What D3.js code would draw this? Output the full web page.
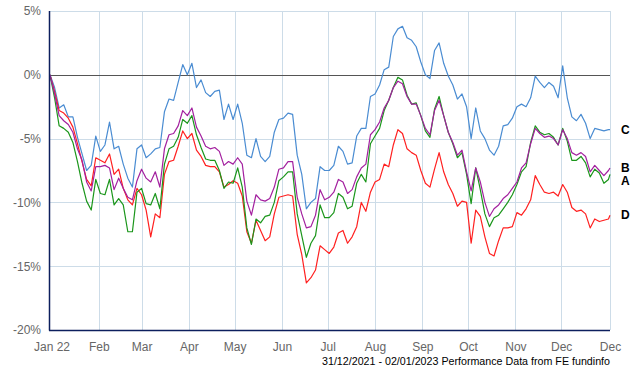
<!DOCTYPE html>
<meta charset="utf-8">
<style>
body { margin: 0; background: #fff; }
svg { display: block; font-family: "Liberation Sans", Arial, sans-serif; }
.grid line { stroke: #cddce8; stroke-width: 1px; shape-rendering: crispEdges; }
.axis text { fill: #666; font-size: 12px; }
.axis path { display: none; }
.line { fill: none; stroke-width: 1.2px; stroke-linejoin: round; }
.label { font-size: 12px; font-weight: bold; fill: #000; }
</style>
<svg width="640" height="370"></svg>
<script src="https://d3js.org/d3.v7.min.js"></script>
<script>

var dates = [
  "2021-12-31",
  "2022-01-03","2022-01-06","2022-01-09","2022-01-12","2022-01-15","2022-01-18","2022-01-21","2022-01-24","2022-01-27","2022-01-30",
  "2022-02-02","2022-02-05","2022-02-08","2022-02-11","2022-02-14","2022-02-17","2022-02-20","2022-02-23","2022-02-26",
  "2022-03-01","2022-03-04","2022-03-07","2022-03-10","2022-03-13","2022-03-16","2022-03-19","2022-03-22","2022-03-25","2022-03-28","2022-03-31",
  "2022-04-03","2022-04-06","2022-04-09","2022-04-12","2022-04-15","2022-04-18","2022-04-21","2022-04-24","2022-04-27","2022-04-30",
  "2022-05-03","2022-05-06","2022-05-09","2022-05-12","2022-05-15","2022-05-18","2022-05-21","2022-05-24","2022-05-27","2022-05-30",
  "2022-06-02","2022-06-05","2022-06-08","2022-06-11","2022-06-14","2022-06-17","2022-06-20","2022-06-23","2022-06-26","2022-06-29",
  "2022-07-02","2022-07-05","2022-07-08","2022-07-11","2022-07-14","2022-07-17","2022-07-20","2022-07-23","2022-07-26","2022-07-29",
  "2022-08-01","2022-08-04","2022-08-07","2022-08-10","2022-08-13","2022-08-16","2022-08-19","2022-08-22","2022-08-25","2022-08-28","2022-08-31",
  "2022-09-03","2022-09-06","2022-09-09","2022-09-12","2022-09-15","2022-09-18","2022-09-21","2022-09-24","2022-09-27","2022-09-30",
  "2022-10-03","2022-10-06","2022-10-09","2022-10-12","2022-10-15","2022-10-18","2022-10-21","2022-10-24","2022-10-27","2022-10-30",
  "2022-11-02","2022-11-05","2022-11-08","2022-11-11","2022-11-14","2022-11-17","2022-11-20","2022-11-23","2022-11-26","2022-11-29",
  "2022-12-02","2022-12-05","2022-12-08","2022-12-11","2022-12-14","2022-12-17","2022-12-20","2022-12-23","2022-12-26","2022-12-29",
  "2023-01-01","2023-01-02"
];

var seriesC = [0,-1.0,-2.6,-2.35,-3.3,-3.3,-4.9,-6.2,-7.5,-7.1,
  -4.8,-6.0,-5.5,-3.7,-5.8,-5.6,-7.0,-8.1,-8.8,-5.8,
  -5.5,-6.5,-6.2,-5.8,-5.7,-2.9,-1.9,-2.0,-0.6,0.8,
  0,0.9,-1.0,-0.4,-1.4,-1.7,-1.3,-1.2,-3.5,-2.3,
  -3.5,-2.3,-3.8,-6.3,-6.5,-5.0,-6.4,-6.8,-6.4,-4.5,
  -3.5,-3.4,-3.0,-3.1,-6.3,-7.8,-10.5,-10.0,-9.7,-7.2,
  -7.5,-7.5,-7.1,-5.6,-6.0,-7.0,-6.9,-4.8,-4.2,-4.2,
  -1.7,-1.5,-0.8,0.4,0.6,3.0,3.6,3.8,2.9,2.7,
  2.2,1.0,0,-0.3,1.9,2.5,0.9,-0.1,-0.8,-1.9,
  -1.5,-2.5,-5.0,-2.6,-4.4,-5.0,-5.9,-6.3,-5.6,-4.0,
  -3.9,-3.4,-2.5,-2.3,-2.5,-1.8,-0.1,-0.6,-1.0,-0.6,
  -0.9,-1.8,0.7,-1.8,-3.3,-3.6,-3.1,-3.8,-5.0,-4.2,
  -4.3,-4.4,-4.3,-4.3];

var seriesB = [0,-1.5,-3.2,-3.6,-3.9,-4.5,-5.8,-6.7,-8.4,-9.1,
  -7.2,-7.2,-7.1,-7.3,-9.0,-8.1,-8.9,-9.6,-9.8,-8.3,
  -7.4,-8.1,-8.4,-7.6,-8.8,-5.8,-4.7,-4.6,-4.0,-2.8,
  -3.2,-2.6,-4.1,-4.8,-5.6,-5.8,-5.7,-6.0,-7.1,-6.8,
  -7.0,-6.5,-7.0,-9.9,-11.0,-9.4,-9.8,-9.9,-9.7,-8.8,
  -7.4,-7.3,-6.8,-6.8,-9.6,-10.9,-12.0,-11.9,-11.0,-9.0,
  -9.8,-9.6,-9.2,-8.2,-8.4,-9.3,-9.0,-8.0,-7.3,-7.0,
  -4.7,-4.3,-3.7,-2.6,-2.0,-1.0,-0.5,-0.7,-1.7,-2.3,
  -2.3,-3.2,-4.2,-4.7,-2.8,-2.0,-3.2,-4.5,-5.3,-6.3,
  -5.9,-7.6,-9.1,-7.3,-8.4,-10.0,-11.1,-10.5,-10.2,-9.7,
  -9.4,-8.9,-8.4,-7.3,-6.9,-5.4,-4.2,-4.6,-4.9,-4.8,
  -5.0,-5.5,-4.3,-5.0,-6.1,-6.3,-6.1,-6.4,-7.6,-7.1,
  -7.5,-7.9,-7.5,-7.3];

var seriesA = [0,-1.8,-4.0,-4.2,-4.5,-5.3,-6.8,-8.5,-9.9,-10.6,
  -8.2,-9.3,-9.4,-8.2,-10.2,-9.7,-10.2,-12.3,-12.3,-9.2,
  -8.9,-10.1,-10.2,-9.3,-10.5,-7.0,-5.8,-5.6,-4.9,-3.5,
  -3.8,-3.2,-4.7,-5.7,-6.6,-6.7,-6.7,-7.5,-8.9,-8.4,
  -8.5,-7.3,-8.8,-12.0,-13.3,-11.3,-11.6,-11.1,-11.0,-10.0,
  -8.3,-8.0,-7.6,-7.6,-10.9,-12.6,-14.3,-13.2,-12.6,-10.2,
  -11.2,-11.2,-10.8,-9.3,-9.6,-10.5,-10.3,-8.5,-7.8,-8.4,
  -5.4,-4.8,-4.2,-2.8,-2.0,-1.0,-0.2,-0.4,-1.6,-2.3,
  -2.2,-3.2,-4.4,-4.9,-2.7,-1.7,-3.2,-4.5,-5.4,-6.5,
  -6.1,-7.8,-10.1,-7.3,-9.0,-10.9,-11.9,-11.2,-11.0,-10.5,
  -10.0,-9.4,-8.6,-7.6,-7.2,-5.3,-4.0,-4.5,-4.7,-4.6,
  -4.9,-5.5,-4.2,-5.2,-6.7,-6.7,-6.4,-6.9,-8.0,-7.4,
  -7.7,-8.5,-8.2,-7.8];

var seriesD = [0,-1.3,-2.8,-3.0,-3.4,-4.1,-5.4,-6.8,-8.2,-8.7,
  -6.5,-6.7,-6.9,-6.2,-7.8,-7.4,-8.9,-9.8,-10.2,-8.9,
  -9.4,-10.6,-12.7,-10.9,-11.2,-7.8,-6.8,-6.7,-5.6,-4.4,
  -5.0,-4.6,-5.9,-6.4,-7.1,-7.2,-7.2,-7.6,-8.8,-8.6,
  -8.3,-8.5,-9.5,-12.3,-13.2,-11.4,-12.2,-13.0,-12.7,-10.9,
  -9.6,-9.5,-9.4,-9.5,-12.5,-14.1,-16.3,-15.9,-15.3,-13.4,
  -13.7,-14.0,-13.5,-12.4,-12.2,-13.2,-12.7,-11.9,-10.0,-10.7,
  -9.2,-8.4,-8.2,-7.0,-7.2,-5.5,-4.3,-4.6,-5.8,-6.1,
  -6.3,-7.5,-8.5,-8.8,-7.4,-6.1,-7.6,-8.6,-9.3,-10.3,
  -9.9,-10.0,-13.2,-10.6,-11.1,-12.7,-14.0,-14.2,-13.0,-12.0,
  -12.0,-11.9,-10.8,-11.0,-10.5,-9.8,-7.9,-8.6,-9.2,-9.3,
  -9.2,-9.5,-8.6,-9.2,-10.4,-10.7,-10.6,-10.9,-12.0,-11.3,
  -11.5,-11.4,-11.3,-11.0];

var yTicks = [5, 0, -5, -10, -15, -20];
var xTickDates = ["2022-01-01","2022-02-01","2022-03-01","2022-04-01","2022-05-01","2022-06-01",
  "2022-07-01","2022-08-01","2022-09-01","2022-10-01","2022-11-01","2022-12-01","2023-01-02"];
var xTickLabels = ["Jan 22","Feb","Mar","Apr","May","Jun","Jul","Aug","Sep","Oct","Nov","Dec","Dec"];
var footerText = "31/12/2021 - 02/01/2023 Performance Data from FE fundinfo";

var series = [
  {name: "C", values: seriesC, color: "#4a8cd2"},
  {name: "D", values: seriesD, color: "#ff2020"},
  {name: "A", values: seriesA, color: "#1b961b"},
  {name: "B", values: seriesB, color: "#a3209f"}
];

var svg = d3.select("svg"),
    margin = {top: 11, right: 30, bottom: 40, left: 50},
    width = +svg.attr("width") - margin.left - margin.right,
    height = +svg.attr("height") - margin.top - margin.bottom;

var parseDate = d3.timeParse("%Y-%m-%d");
var days = dates.map(parseDate);
var tickDays = xTickDates.map(parseDate);

var x = d3.scaleTime()
    .domain([days[0], days[days.length - 1]])
    .range([0, width]);
var y = d3.scaleLinear().domain([-20, 5]).range([height, 0]);

var g = svg.append("g")
    .attr("transform", "translate(" + margin.left + "," + margin.top + ")");

// grid
var grid = g.append("g").attr("class", "grid");
grid.selectAll(".h").data(yTicks.filter(function(d) { return d !== 0 && d !== -20; }))
  .enter().append("line")
    .attr("x1", 0).attr("x2", width)
    .attr("y1", function(d) { return Math.round(y(d)) + 0.5; })
    .attr("y2", function(d) { return Math.round(y(d)) + 0.5; });
grid.selectAll(".v").data(tickDays.slice(1))
  .enter().append("line")
    .attr("x1", function(d) { return Math.round(x(d)) + 0.5; })
    .attr("x2", function(d) { return Math.round(x(d)) + 0.5; })
    .attr("y1", 0).attr("y2", height);

// zero line
g.append("line")
    .attr("x1", 0).attr("x2", width)
    .attr("y1", Math.round(y(0)) + 0.5).attr("y2", Math.round(y(0)) + 0.5)
    .attr("stroke", "#555").attr("shape-rendering", "crispEdges");

var line = d3.line()
    .x(function(d, i) { return x(days[i]); })
    .y(function(d) { return y(d); });

series.forEach(function(s) {
  g.append("path")
      .datum(s.values)
      .attr("class", "line")
      .attr("stroke", s.color)
      .attr("d", line);
});

// axis lines
g.append("line")
    .attr("x1", -0.5).attr("x2", -0.5).attr("y1", 0).attr("y2", height + 0.5)
    .attr("stroke", "#0c1f5e").attr("stroke-width", 1.5);
g.append("line")
    .attr("x1", -1).attr("x2", width).attr("y1", height + 0.5).attr("y2", height + 0.5)
    .attr("stroke", "#0c1f5e").attr("stroke-width", 1.5);

g.append("g")
    .attr("class", "axis")
    .call(d3.axisLeft(y).tickValues(yTicks)
      .tickFormat(function(d) { return d + "%"; })
      .tickSize(0).tickPadding(9));

g.append("g")
    .attr("class", "axis")
    .attr("transform", "translate(0," + height + ")")
    .call(d3.axisBottom(x).tickValues(tickDays)
      .tickFormat(function(d, i) { return xTickLabels[i]; })
      .tickSize(0).tickPadding(12));

// end labels with simple collision avoidance
var labels = series.map(function(s) {
  return {name: s.name, y: y(s.values[s.values.length - 1])};
}).sort(function(a, b) { return a.y - b.y; });
for (var i = 1; i < labels.length; i++) {
  if (labels[i].y < labels[i - 1].y + 13) labels[i].y = labels[i - 1].y + 13;
}
g.selectAll(".label").data(labels)
  .enter().append("text")
    .attr("class", "label")
    .attr("x", width + 11)
    .attr("y", function(d) { return d.y; })
    .attr("dy", "0.36em")
    .text(function(d) { return d.name; });

svg.append("text")
    .attr("x", margin.left + width)
    .attr("y", 365)
    .attr("text-anchor", "end")
    .attr("font-size", 11)
    .attr("fill", "#000")
    .attr("textLength", 288)
    .attr("lengthAdjust", "spacingAndGlyphs")
    .text(footerText);

</script>
